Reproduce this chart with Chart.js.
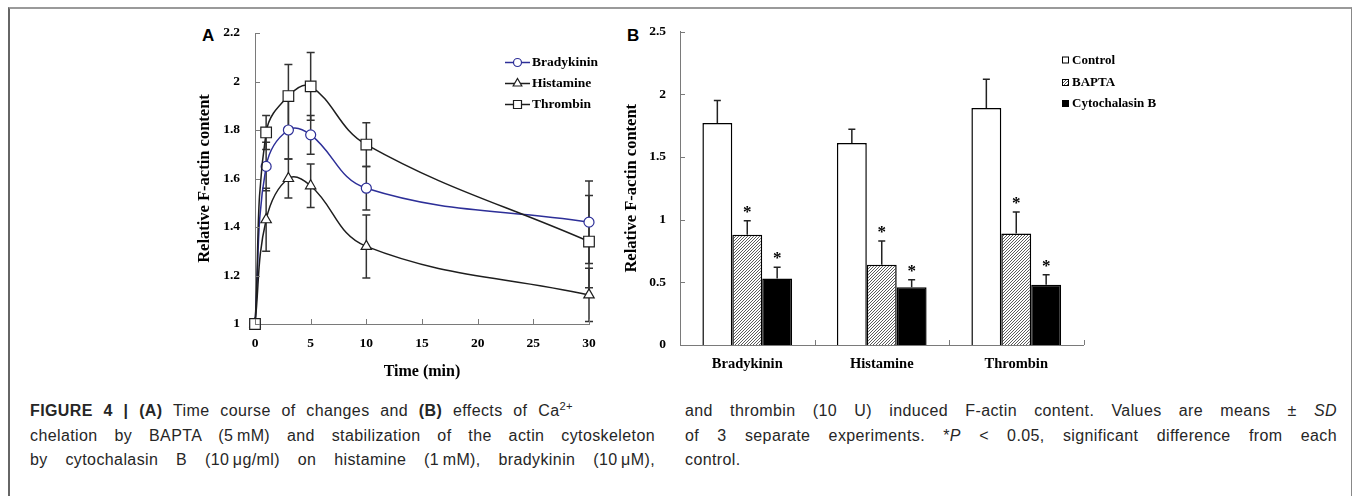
<!DOCTYPE html>
<html>
<head>
<meta charset="utf-8">
<script src="https://cdn.jsdelivr.net/npm/chart.js@4.4.0/dist/chart.umd.min.js"></script>
<style>
  html, body { margin: 0; padding: 0; background: #fff; }
  body { width: 1355px; height: 496px; position: relative; overflow: hidden; }
  #frame { position: absolute; left: 8px; top: 7px; width: 1341px; height: 600px;
           border-top: 2px solid #9a9a9a; border-left: 2px solid #666; border-right: 1px solid #888; }
  canvas { position: absolute; }
  #cA { left: 180px; top: 10px; }
  #cB { left: 620px; top: 10px; }
  .plab { position: absolute; font: bold 17px "Liberation Sans", Arial, sans-serif; color: #000; }
  .cap { position: absolute; font-family: "Liberation Sans", Arial, sans-serif; font-size: 16px;
         letter-spacing: 0.4px; color: #262626; }
  .cap div { height: 24.5px; line-height: 24.5px; text-align: justify; text-align-last: justify; }
  .cap div.last { text-align-last: left; }
  .cap sup { font-size: 70%; line-height: 0; vertical-align: 0.55em; }
</style>
</head>
<body>
<div id="frame"></div>
<div class="plab" style="left:202px;top:26px;">A</div>
<div class="plab" style="left:627px;top:26px;">B</div>
<canvas id="cA" width="440" height="380"></canvas>
<canvas id="cB" width="600" height="380"></canvas>

<div class="cap" style="left:30px;top:399px;">
  <div style="width:543px;"><b>FIGURE 4 | (A)</b> Time course of changes and <b>(B)</b> effects of Ca<sup>2+</sup></div>
  <div style="width:625px;">chelation by BAPTA (5&#8201;mM) and stabilization of the actin cytoskeleton</div>
  <div style="width:625px;">by cytochalasin B (10&#8201;&mu;g/ml) on histamine (1&#8201;mM), bradykinin (10&#8201;&mu;M),</div>
</div>
<div class="cap" style="left:685px;top:399px;">
  <div style="width:652px;">and thrombin (10 U) induced F-actin content. Values are means &plusmn; <i>SD</i></div>
  <div style="width:652px;">of 3 separate experiments. *<i>P</i> &lt; 0.05, significant difference from each</div>
  <div class="last" style="width:652px;">control.</div>
</div>

<script>
// panel A: time course
const timeMin = [0, 1, 3, 5, 10, 30];
const bradykinin = [1.00, 1.65, 1.80, 1.78, 1.56, 1.42];
const bradykininSD = [0, 0.10, 0.12, 0.08, 0.09, 0.17];
const histamine = [1.00, 1.43, 1.60, 1.57, 1.32, 1.12];
const histamineSD = [0, 0.13, 0.08, 0.09, 0.13, 0.11];
const thrombin = [1.00, 1.79, 1.94, 1.98, 1.74, 1.34];
const thrombinSD = [0, 0.07, 0.13, 0.14, 0.09, 0.19];

// panel B: treatments
const agonists = ['Bradykinin', 'Histamine', 'Thrombin'];
const control = [1.77, 1.61, 1.89];
const controlSD = [0.18, 0.11, 0.23];
const bapta = [0.88, 0.64, 0.89];
const baptaSD = [0.11, 0.19, 0.17];
const cytochalasin = [0.53, 0.46, 0.48];
const cytochalasinSD = [0.09, 0.06, 0.08];
const baptaSig = [true, true, true];
const cytochalasinSig = [true, true, true];

const SERIF = '"Liberation Serif", "Times New Roman", serif';
Chart.defaults.font.family = SERIF;
Chart.defaults.color = '#000';

const AXIS = '#7a7a7a';
const BLUE = '#2d2f98';
const DARK = '#1e1e1e';

function trimLabel(v) { return String(Number(v.toFixed(2))); }

function hatchPattern(ctx) {
  const c = document.createElement('canvas');
  c.width = 3; c.height = 3;
  const g = c.getContext('2d');
  g.fillStyle = '#fff';
  g.fillRect(0, 0, 3, 3);
  g.strokeStyle = '#4a4a4a';
  g.lineWidth = 0.9;
  g.beginPath();
  g.moveTo(0, 3); g.lineTo(3, 0);
  g.moveTo(-1, 1); g.lineTo(1, -1);
  g.moveTo(2, 4); g.lineTo(4, 2);
  g.stroke();
  return ctx.createPattern(c, 'repeat');
}

// short tick marks pointing into the plot
const inwardTicks = {
  id: 'inwardTicks',
  afterDraw(chart) {
    const { ctx, chartArea: a, scales: { x, y } } = chart;
    const len = 5;
    ctx.save();
    ctx.strokeStyle = AXIS;
    ctx.lineWidth = 1;
    ctx.beginPath();
    y.ticks.forEach((t, i) => {
      const py = Math.round(y.getPixelForTick(i)) + 0.5;
      ctx.moveTo(a.left, py); ctx.lineTo(a.left + len, py);
    });
    if (x.type === 'category') {
      for (let i = 0; i <= x.ticks.length; i++) {
        const px = Math.round(x.getPixelForValue(i - 0.5)) + 0.5;
        ctx.moveTo(px, a.bottom); ctx.lineTo(px, a.bottom - len);
      }
    } else {
      x.ticks.forEach((t, i) => {
        const px = Math.round(x.getPixelForTick(i)) + 0.5;
        ctx.moveTo(px, a.bottom); ctx.lineTo(px, a.bottom - len);
      });
    }
    ctx.stroke();
    ctx.restore();
  }
};

// symmetric error bars behind the markers
const lineErrors = {
  id: 'lineErrors',
  beforeDatasetsDraw(chart) {
    const { ctx, scales: { y } } = chart;
    ctx.save();
    ctx.strokeStyle = '#333';
    ctx.lineWidth = 1.5;
    chart.data.datasets.forEach((ds, i) => {
      const meta = chart.getDatasetMeta(i);
      ds.sd.forEach((sd, j) => {
        if (!sd) return;
        const pt = meta.data[j];
        const top = y.getPixelForValue(ds.data[j].y + sd);
        const bot = y.getPixelForValue(ds.data[j].y - sd);
        ctx.beginPath();
        ctx.moveTo(pt.x, top); ctx.lineTo(pt.x, bot);
        ctx.moveTo(pt.x - 4, top); ctx.lineTo(pt.x + 4, top);
        ctx.moveTo(pt.x - 4, bot); ctx.lineTo(pt.x + 4, bot);
        ctx.stroke();
      });
    });
    ctx.restore();
  }
};

function marker(ctx, style, x, y, r, color) {
  ctx.save();
  ctx.fillStyle = '#fff';
  ctx.strokeStyle = color;
  ctx.lineWidth = 1.2;
  ctx.beginPath();
  if (style === 'circle') {
    ctx.arc(x, y, r, 0, Math.PI * 2);
  } else if (style === 'triangle') {
    ctx.moveTo(x, y - r);
    ctx.lineTo(x + r * 0.866, y + r * 0.5);
    ctx.lineTo(x - r * 0.866, y + r * 0.5);
    ctx.closePath();
  } else {
    ctx.rect(x - r, y - r, 2 * r, 2 * r);
  }
  ctx.fill();
  ctx.stroke();
  ctx.restore();
}

const legendA = {
  id: 'legendA',
  afterDraw(chart) {
    const { ctx } = chart;
    const x0 = 325, x1 = 350, rows = [52.5, 73.5, 94.5];
    const sizes = { circle: 4, triangle: 5, rect: 4 };
    ctx.save();
    ctx.font = 'bold 13.5px ' + SERIF;
    ctx.textBaseline = 'middle';
    ctx.fillStyle = '#000';
    chart.data.datasets.forEach((ds, i) => {
      const y = rows[i];
      ctx.strokeStyle = ds.borderColor;
      ctx.lineWidth = 1.5;
      ctx.beginPath(); ctx.moveTo(x0, y); ctx.lineTo(x1, y); ctx.stroke();
      marker(ctx, ds.pointStyle, (x0 + x1) / 2, y, sizes[ds.pointStyle], ds.borderColor);
      ctx.fillText(ds.label, x1 + 2, y + 0.5);
    });
    ctx.restore();
  }
};

const timeData = (ys) => timeMin.map((t, i) => ({ x: t, y: ys[i] }));

new Chart(document.getElementById('cA'), {
  type: 'line',
  data: {
    datasets: [
      { label: 'Bradykinin', data: timeData(bradykinin), sd: bradykininSD, order: 2,
        borderColor: BLUE, borderWidth: 1.5, pointStyle: 'circle', pointRadius: 5,
        pointBackgroundColor: '#fff', pointBorderColor: BLUE, pointBorderWidth: 1.2 },
      { label: 'Histamine', data: timeData(histamine), sd: histamineSD, order: 1,
        borderColor: DARK, borderWidth: 1.5, pointStyle: 'triangle', pointRadius: 6,
        pointBackgroundColor: '#fff', pointBorderColor: DARK, pointBorderWidth: 1.2 },
      { label: 'Thrombin', data: timeData(thrombin), sd: thrombinSD, order: 0,
        borderColor: DARK, borderWidth: 1.5, pointStyle: 'rect', pointRadius: 7.5,
        pointBackgroundColor: '#fff', pointBorderColor: DARK, pointBorderWidth: 1.2 }
    ]
  },
  options: {
    responsive: false,
    animation: false,
    devicePixelRatio: 1,
    clip: false,
    tension: 0.4,
    layout: { padding: { left: 0, top: 23, right: 31, bottom: 0 } },
    plugins: { legend: { display: false }, tooltip: { enabled: false } },
    scales: {
      x: {
        type: 'linear', min: 0, max: 30,
        afterFit(s) { s.height = 66; },
        grid: { display: false },
        border: { display: true, color: AXIS, width: 1 },
        ticks: { stepSize: 5, padding: 3, autoSkip: false, maxRotation: 0,
                 font: { size: 13.5, weight: 'bold' }, color: '#000' },
        title: { display: true, text: 'Time (min)', font: { size: 16, weight: 'bold' },
                 padding: { top: 0, bottom: 9 }, color: '#000' }
      },
      y: {
        min: 1, max: 2.2,
        afterFit(s) { s.width = 75; },
        grid: { display: false },
        border: { display: true, color: AXIS, width: 1 },
        ticks: { stepSize: 0.2, padding: 7, callback: trimLabel,
                 font: { size: 13.5, weight: 'bold' }, color: '#000' },
        title: { display: true, text: 'Relative F-actin content', font: { size: 16.5, weight: 'bold' },
                 padding: { top: 15, bottom: 0 }, color: '#000' }
      }
    }
  },
  plugins: [lineErrors, inwardTicks, legendA]
});

// panel B
const ctxB = document.getElementById('cB').getContext('2d');
const HATCH = hatchPattern(ctxB);

const barErrors = {
  id: 'barErrors',
  afterDatasetsDraw(chart) {
    const { ctx, scales: { y } } = chart;
    ctx.save();
    chart.data.datasets.forEach((ds, i) => {
      const meta = chart.getDatasetMeta(i);
      ds.data.forEach((v, j) => {
        const bar = meta.data[j];
        const top = y.getPixelForValue(v + ds.sd[j]);
        ctx.strokeStyle = '#222';
        ctx.lineWidth = 1.5;
        ctx.beginPath();
        ctx.moveTo(bar.x, bar.y); ctx.lineTo(bar.x, top);
        ctx.moveTo(bar.x - 3.5, top); ctx.lineTo(bar.x + 3.5, top);
        ctx.stroke();
        if (ds.sig && ds.sig[j]) {
          ctx.fillStyle = '#000';
          ctx.font = 'bold 17px ' + SERIF;
          ctx.textAlign = 'center';
          ctx.textBaseline = 'alphabetic';
          ctx.fillText('*', bar.x, top - 4);
        }
      });
    });
    ctx.restore();
  }
};

const legendB = {
  id: 'legendB',
  afterDraw(chart) {
    const { ctx } = chart;
    const x0 = 442, rows = [50, 72.5, 93.5], s = 7;
    ctx.save();
    ctx.font = 'bold 13px ' + SERIF;
    ctx.textBaseline = 'middle';
    chart.data.datasets.forEach((ds, i) => {
      const y = rows[i];
      ctx.fillStyle = ds.backgroundColor;
      ctx.fillRect(x0, y - s / 2, s, s);
      ctx.strokeStyle = '#000';
      ctx.lineWidth = 1;
      ctx.strokeRect(x0 + 0.5, y - s / 2 + 0.5, s - 1, s - 1);
      ctx.fillStyle = '#000';
      ctx.fillText(ds.label, x0 + s + 3, y + 0.5);
    });
    ctx.restore();
  }
};

new Chart(ctxB, {
  type: 'bar',
  data: {
    labels: agonists,
    datasets: [
      { label: 'Control', data: control, sd: controlSD, backgroundColor: '#fff' },
      { label: 'BAPTA', data: bapta, sd: baptaSD, sig: baptaSig, backgroundColor: HATCH },
      { label: 'Cytochalasin B', data: cytochalasin, sd: cytochalasinSD, sig: cytochalasinSig, backgroundColor: '#000' }
    ]
  },
  options: {
    responsive: false,
    animation: false,
    devicePixelRatio: 1,
    layout: { padding: { left: 0, top: 21.5, right: 136.5, bottom: 0 } },
    datasets: { bar: { categoryPercentage: 0.667, barPercentage: 1.0, borderColor: '#000', borderWidth: 1.5 } },
    plugins: { legend: { display: false }, tooltip: { enabled: false } },
    scales: {
      x: {
        afterFit(s) { s.height = 45; },
        grid: { display: false, offset: true },
        border: { display: true, color: AXIS, width: 1 },
        ticks: { padding: 3, autoSkip: false, maxRotation: 0,
                 font: { size: 14.5, weight: 'bold' }, color: '#000' }
      },
      y: {
        min: 0, max: 2.5,
        afterFit(s) { s.width = 60; },
        grid: { display: false },
        border: { display: true, color: AXIS, width: 1 },
        ticks: { stepSize: 0.5, padding: 6, callback: trimLabel,
                 font: { size: 13.5, weight: 'bold' }, color: '#000' },
        title: { display: true, text: 'Relative F-actin content', font: { size: 16.5, weight: 'bold' },
                 padding: { top: 2, bottom: 0 }, color: '#000' }
      }
    }
  },
  plugins: [barErrors, inwardTicks, legendB]
});
</script>
</body>
</html>
